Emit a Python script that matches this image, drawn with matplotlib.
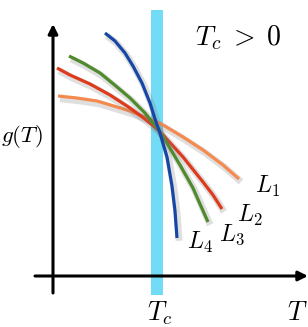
import matplotlib
matplotlib.use("Agg")
import matplotlib.pyplot as plt
import matplotlib.patheffects as pe

plt.rcParams['mathtext.fontset'] = 'cm'

# data (x: T, y: g(T))
L1_T = [5, 24, 44, 64, 77, 92, 104, 110, 130, 150, 170, 186]
L1_g = [180, 178, 175, 169, 165, 159, 154, 151, 139, 126, 111, 97]
L2_T = [4, 17, 37, 57, 77, 92, 104, 110, 130, 150, 160, 169]
L2_g = [208, 201, 192, 181, 168, 157, 147, 141, 119, 94, 81, 67]
L3_T = [16, 30, 47, 64, 77, 92, 104, 112, 127, 140, 147, 155]
L3_g = [220, 213, 203, 189, 178, 163, 148, 136, 111, 88, 72, 54]
L4_T = [52, 62, 72, 80, 89, 97, 102, 107, 114, 119, 122, 124]
L4_g = [243, 235, 223, 210, 193, 173, 157, 143, 119, 90, 65, 38]
Tc = 104
series = [(L1_T, L1_g, '#F58A4E'),
          (L2_T, L2_g, '#DE3B1C'),
          (L3_T, L3_g, '#4F8A2C'),
          (L4_T, L4_g, '#1747A6')]
labels = [r'$L_1$', r'$L_2$', r'$L_3$', r'$L_4$']

fig = plt.figure(figsize=(3.08, 3.27), dpi=100)
ax = fig.add_axes([0, 0, 1, 1])
ax.set_xlim(-53, 255)
ax.set_ylim(-51, 276)
ax.axis('off')

# Tc band
ax.bar(Tc, 285, bottom=-19, width=12, color='#72DCF6', zorder=1)

shadow = [pe.SimpleLineShadow(offset=(1.5, -2), shadow_color='gray', alpha=0.25, linewidth=5), pe.Normal()]

# axes with arrows
ax.annotate('', xy=(0, 252), xytext=(0, -17),
            arrowprops=dict(arrowstyle='-|>', lw=2.2, color='k', mutation_scale=14,
                            shrinkA=0, shrinkB=0), zorder=3)
ax.annotate('', xy=(255, 0), xytext=(-18, 0),
            arrowprops=dict(arrowstyle='-|>', lw=2.2, color='k', mutation_scale=14,
                            shrinkA=0, shrinkB=0), zorder=3)

for T, g, c in series:
    ax.plot(T, g, color=c, lw=2.3, solid_capstyle='butt', solid_joinstyle='round',
            zorder=4, path_effects=shadow)

# labels
label_pos = [(202, 83), (184, 54), (166, 35), (134, 27)]
for (x, y), lab in zip(label_pos, labels):
    ax.text(x, y, lab, fontsize=17, ha='left', va='baseline')

ax.text(Tc + 3, -37, r'$T_c$', fontsize=19, ha='center', va='center')
ax.text(255, -37, r'$T$', fontsize=19, ha='right', va='center')
ax.text(-10, 139, r'$g(T)$', fontsize=16.5, ha='right', va='center')
ax.text(142, 231, r'$T_c\;>\;0$', fontsize=20, ha='left', va='baseline')

fig.savefig('out.png', dpi=100)
